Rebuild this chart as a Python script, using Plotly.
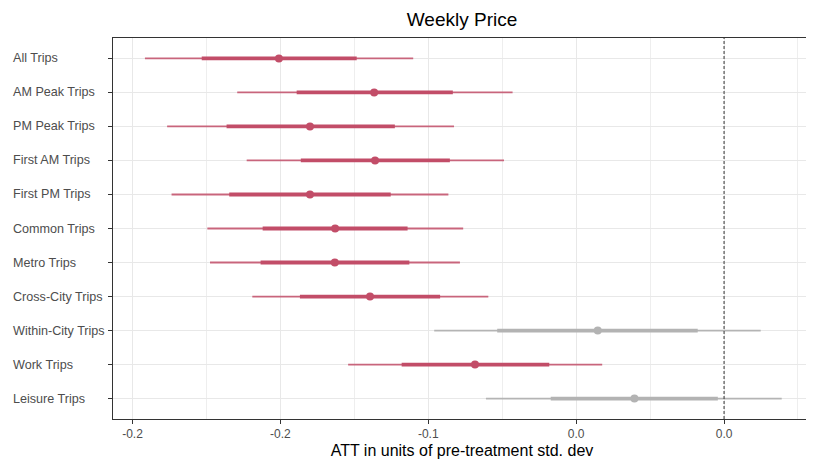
import plotly.graph_objects as go

categories = ["All Trips", "AM Peak Trips", "PM Peak Trips", "First AM Trips", "First PM Trips",
              "Common Trips", "Metro Trips", "Cross-City Trips", "Within-City Trips", "Work Trips",
              "Leisure Trips"]
estimate = [-0.1505, -0.1183, -0.1400, -0.1180, -0.1400, -0.1315, -0.1316, -0.1197, -0.0427, -0.0842, -0.0303]
inner_lo = [-0.1766, -0.1445, -0.1682, -0.1431, -0.1673, -0.1560, -0.1567, -0.1434, -0.0767, -0.1090, -0.0586]
inner_hi = [-0.1242, -0.0917, -0.1113, -0.0927, -0.1127, -0.1070, -0.1064, -0.0960, -0.0089, -0.0591, -0.0021]
outer_lo = [-0.1958, -0.1646, -0.1883, -0.1614, -0.1868, -0.1747, -0.1738, -0.1595, -0.0980, -0.1271, -0.0805]
outer_hi = [-0.1051, -0.0715, -0.0913, -0.0744, -0.0932, -0.0882, -0.0893, -0.0797, 0.0124, -0.0412, 0.0195]
significant = [True, True, True, True, True, True, True, True, False, True, False]

x_tickvals = [-0.2, -0.15, -0.1, -0.05, 0.0]
x_ticktext = ["-0.2", "-0.2", "-0.1", "0.0", "0.0"]

RED = "#c24d68"
RED_THIN = "rgba(194,77,104,0.85)"
GRAY = "#b3b3b3"
GRAY_THIN = "rgba(170,170,170,0.85)"

# the page places the figure 8px from the top-left corner
OFF = 8
W, H = 814 - OFF, 462 - OFF
ML, MR, MT, MB = 113 - OFF, 3, 38 - OFF, 43
PW = W - ML - MR
PH = H - MT - MB

fig = go.Figure()

def seg(lo, hi, flags, want):
    xs, ys = [], []
    for i, (a, b, f) in enumerate(zip(lo, hi, flags)):
        if f == want:
            xs += [a, b, None]
            ys += [i, i, None]
    return xs, ys

for want, thin_c, thick_c in [(True, RED_THIN, RED), (False, GRAY_THIN, GRAY)]:
    xs, ys = seg(outer_lo, outer_hi, significant, want)
    fig.add_trace(go.Scatter(x=xs, y=ys, mode="lines", line=dict(color=thin_c, width=1.8),
                             hoverinfo="skip", showlegend=False))
    xs, ys = seg(inner_lo, inner_hi, significant, want)
    fig.add_trace(go.Scatter(x=xs, y=ys, mode="lines", line=dict(color=thick_c, width=3.8),
                             hoverinfo="skip", showlegend=False))
    px = [e for e, f in zip(estimate, significant) if f == want]
    py = [i for i, f in enumerate(significant) if f == want]
    fig.add_trace(go.Scatter(x=px, y=py, mode="markers",
                             marker=dict(color=thick_c, size=8, line=dict(width=0)),
                             showlegend=False))

# zero reference line
fig.add_shape(type="line", xref="x", yref="paper", x0=0, x1=0, y0=0, y1=1,
              line=dict(color="#333333", width=1, dash="3px,2px"))

# left-aligned category labels
for i, c in enumerate(categories):
    fig.add_annotation(text=c, xref="paper", yref="y", x=(11 - OFF - ML) / PW, y=i,
                       xanchor="left", yanchor="middle", showarrow=False,
                       font=dict(size=12.6, color="#4d4d4d"))

fig.update_layout(
    width=W, height=H,
    margin=dict(l=ML, r=MR, t=MT, b=MB),
    paper_bgcolor="white",
    plot_bgcolor="white",
    font=dict(family="Liberation Sans, Arial, sans-serif", color="#4d4d4d"),
    title=dict(text="Weekly Price", x=(ML + PW / 2) / W, xanchor="center",
               y=1 - (19 - OFF) / H, yanchor="middle", font=dict(size=19, color="black")),
    xaxis=dict(range=[-0.2066, 0.0294], tickvals=x_tickvals, ticktext=x_ticktext,
               ticks="outside", ticklen=4, tickcolor="#333333", tickwidth=1,
               tickfont=dict(size=12, color="#4d4d4d"),
               showgrid=True, gridcolor="#e8e8e8", gridwidth=1.3,
               minor=dict(dtick=0.05, tick0=-0.175, showgrid=True, gridcolor="#eeeeee", gridwidth=0.9),
               showline=True, linecolor="#333333", linewidth=1, mirror=True, zeroline=False,
               title=dict(text="ATT in units of pre-treatment std. dev", standoff=4,
                          font=dict(size=16, color="black"))),
    yaxis=dict(range=[10.6, -0.6], tickvals=list(range(len(categories))),
               showticklabels=False, ticks="outside", ticklen=4, tickcolor="#333333",
               showgrid=True, gridcolor="#e8e8e8", gridwidth=1.3,
               showline=True, linecolor="#333333", linewidth=1, mirror=True, zeroline=False),
)

fig.write_html("out.html")
